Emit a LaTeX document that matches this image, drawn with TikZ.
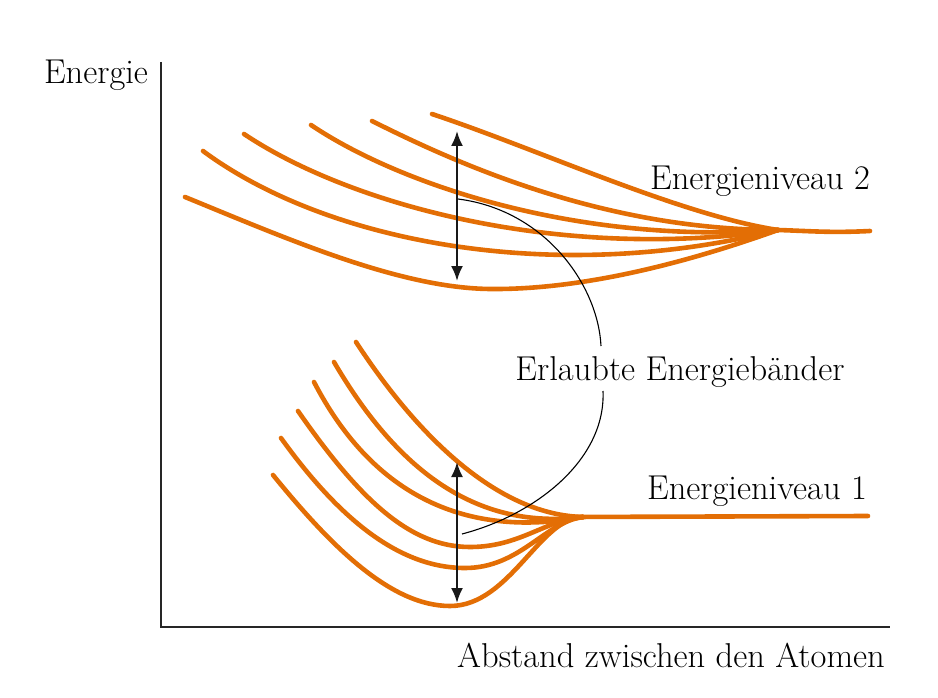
\documentclass[tikz,border=0pt]{standalone}
\usetikzlibrary{arrows.meta}
\definecolor{bandorange}{RGB}{227,110,5}
\begin{document}
\begin{tikzpicture}[x=1pt,y=-1pt,
  band/.style={draw=bandorange,line width=4.6pt,line cap=round},
  axis/.style={draw=black!85,line width=1.8pt},
  gap/.style={draw=black!90,line width=2.2pt,{Latex[length=15pt,width=12pt]}-{Latex[length=15pt,width=12pt]}},
  callout/.style={draw=black,line width=1.1pt},
  lbl/.style={font=\fontsize{34.5}{40}\selectfont,inner sep=0pt}]
\useasboundingbox (0,0) rectangle (938,698);
% axes
\coordinate (otop) at (161,62);
\coordinate (orig) at (161,627);
\coordinate (xend) at (890,627);
\draw[axis] (otop) -- (orig) -- (xend);
% upper band
\coordinate (P) at (778,230);
\draw[band] (185,197) .. controls (290,240) and (400,288) .. (490,289) .. controls (590,290) and (700,258) .. (P);
\draw[band] (203,151) .. controls (330,245) and (560,285) .. (P);
\draw[band] (244,134) .. controls (350,205) and (560,262) .. (P);
\draw[band] (311,125) .. controls (400,185) and (580,245) .. (P);
\draw[band] (372,121) .. controls (450,160) and (600,230) .. (P);
\draw[band] (432,114) .. controls (540,150) and (680,215) .. (P);
\draw[band] (760,229.5) -- (P) .. controls (810,231) and (830,233) .. (870,231);
% lower band
\coordinate (Q) at (583,517);
\draw[band] (273,475) .. controls (330,545) and (390,606) .. (450,606) .. controls (510,606) and (540,517) .. (Q);
\draw[band] (281,438) .. controls (340,520) and (400,568) .. (465,568) .. controls (520,568) and (545,522) .. (Q);
\draw[band] (298,411) .. controls (360,500) and (410,547) .. (470,547) .. controls (520,547) and (545,520) .. (Q);
\draw[band] (314,382) .. controls (370,490) and (460,540) .. (Q);
\draw[band] (334,362) .. controls (400,475) and (480,530) .. (Q);
\draw[band] (356,342) .. controls (420,440) and (500,515) .. (Q);
\draw[band] (570,517) -- (868,516);
% gap arrows
\coordinate (ua) at (457,131);
\coordinate (ub) at (457,281);
\coordinate (la) at (457,462);
\coordinate (lb) at (457,603);
\draw[gap] (ua) -- (ub);
\draw[gap] (la) -- (lb);
% labels
\node[lbl,anchor=base] (energie) at (96,84) {Energie};
\node[lbl,anchor=base] (niv2) at (760,190) {Energieniveau 2};
\node[lbl,anchor=base] (niv1) at (757,499) {Energieniveau 1};
\node[lbl,anchor=base] (baender) at (680,380) {Erlaubte Energiebänder};
\node[lbl,anchor=base] (abstand) at (671,667) {Abstand zwischen den Atomen};
% callout lines
\coordinate (c1s) at (458,199);
\coordinate (c1e) at (601,346);
\coordinate (c2s) at (603,391);
\coordinate (c2e) at (462,534);
\draw[callout] (c1s) .. controls (545,210) and (598,285) .. (c1e);
\draw[callout] (c2s) .. controls (606,460) and (535,515) .. (c2e);
\end{tikzpicture}
\end{document}
